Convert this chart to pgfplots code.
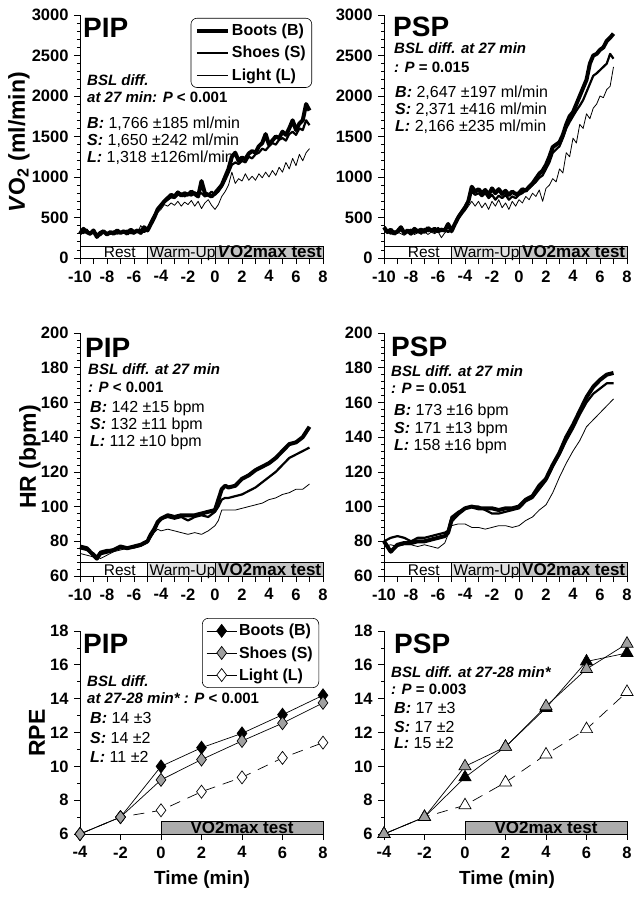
\documentclass[border=0pt]{standalone}
\usepackage{fontspec}
\setmainfont{Liberation Sans}
\usepackage{pgfplots}
\usepackage{pgfplotstable}
\pgfplotsset{compat=1.18}

\definecolor{bandW}{HTML}{E2E2E2}
\definecolor{bandT}{HTML}{C4C4C4}
\definecolor{bandR}{HTML}{ACACAC}
\definecolor{shoeg}{HTML}{A0A0A0}

\pgfplotstableread{
t B S L
-10 300 330 320
-9.75 360 310 300
-9.5 320 350 330
-9.25 300 290 310
-9 340 320 300
-8.75 260 300 280
-8.5 310 280 310
-8.25 330 320 300
-8 290 310 320
-7.75 320 300 290
-7.5 300 330 320
-7.25 340 300 310
-7 310 320 300
-6.75 330 310 330
-6.5 300 340 310
-6.25 350 310 300
-6 320 300 330
-5.75 340 330 310
-5.5 310 350 400
-5.25 380 320 340
-5 340 360 350
-4.75 420 450 420
-4.5 500 530 500
-4.25 600 580 560
-4 650 640 600
-3.75 700 690 660
-3.5 740 720 640
-3.25 780 750 680
-3 760 740 650
-2.75 810 780 700
-2.5 770 800 640
-2.25 800 760 690
-2 780 790 660
-1.75 820 770 710
-1.5 790 810 640
-1.25 760 790 700
-1 950 800 610
-0.75 800 760 680
-0.5 780 780 720
-0.25 760 820 650
0 800 780 600
0.25 850 820 660
0.5 900 880 760
0.75 1000 960 820
1 1100 1050 900
1.25 1250 1150 1060
1.5 1300 1180 920
1.75 1200 1160 980
2 1240 1200 950
2.25 1220 1180 1040
2.5 1290 1250 960
2.75 1320 1230 1010
3 1300 1280 960
3.25 1380 1300 1040
3.5 1420 1350 990
3.75 1530 1330 1060
4 1400 1380 1000
4.25 1450 1420 1080
4.5 1500 1400 1020
4.75 1480 1460 1120
5 1560 1480 1060
5.25 1520 1450 1180
5.5 1600 1530 1100
5.75 1700 1560 1230
6 1580 1520 1140
6.25 1660 1600 1280
6.5 1700 1580 1200
6.75 1900 1700 1300
7 1820 1640 1350
}\vopip

\pgfplotstableread{
t B S L
-10 380 360 340
-9.75 320 340 310
-9.5 350 300 330
-9.25 300 330 290
-9 330 310 320
-8.75 380 350 300
-8.5 310 300 280
-8.25 340 330 310
-8 300 350 320
-7.75 360 310 290
-7.5 330 340 310
-7.25 350 300 300
-7 320 360 330
-6.75 370 330 290
-6.5 340 350 320
-6.25 360 320 300
-6 330 370 330
-5.75 350 330 250
-5.5 340 360 310
-5.25 420 320 340
-5 330 350 330
-4.75 420 430 400
-4.5 500 520 480
-4.25 560 580 540
-4 620 640 580
-3.75 700 720 640
-3.5 880 820 700
-3.25 820 780 640
-3 850 800 700
-2.75 800 760 620
-2.5 840 800 680
-2.25 780 740 600
-2 860 780 700
-1.75 800 720 640
-1.5 850 770 720
-1.25 790 740 620
-1 830 780 680
-0.75 780 720 600
-0.5 820 760 700
-0.25 790 740 640
0 800 780 720
0.25 850 800 680
0.5 830 840 760
0.75 880 860 720
1 920 900 800
1.25 980 940 760
1.5 1040 990 840
1.75 1080 1020 700
2 1150 1100 860
2.25 1250 1180 900
2.5 1370 1300 980
2.75 1400 1340 940
3 1430 1380 1100
3.25 1520 1480 1050
3.5 1650 1600 1300
3.75 1750 1680 1250
4 1800 1750 1480
4.25 1900 1820 1420
4.5 2000 1880 1650
4.75 2100 1950 1600
5 2200 2050 1780
5.25 2400 2150 1720
5.5 2500 2250 1850
5.75 2520 2280 1900
6 2570 2320 2000
6.25 2600 2360 1980
6.5 2680 2400 2080
6.75 2720 2520 2120
7 2770 2460 2360
}\vopsp

\pgfplotstableread{
t B S L
-10 77 76 73
-9.5 76 75 72
-9 72 73 71
-8.75 70 71 72
-8.5 73 74 70
-8 74 75 72
-7.5 75 75 74
-7 77 76 75
-6.5 76 76 76
-6 77 77 76
-5.5 78 78 77
-5 80 80 79
-4.75 84 83 82
-4.5 87 86 85
-4.25 91 90 87
-4 93 93 86
-3.5 95 94 87
-3 94 93 86
-2.5 95 94 85
-2 95 92 84
-1.5 95 94 85
-1 96 95 84
-0.5 97 94 86
0 98 97 89
0.25 104 100 92
0.5 110 104 98
0.75 112 105 98
1 111 105 98
1.5 112 106 98
2 116 107 99
2.5 118 109 100
3 121 111 101
3.5 123 114 102
4 125 117 104
4.5 128 120 105
5 132 124 107
5.5 136 128 108
6 137 130 110
6.5 140 132 110
7 146 134 113
}\hrpip

\pgfplotstableread{
t B S L
-10 80 80 77
-9.5 74 82 78
-9 78 83 77
-8.5 79 82 78
-8 79 80 78
-7.5 80 82 77
-7 80 82 78
-6.5 81 83 77
-6 82 84 76
-5.5 83 85 79
-5.25 85 86 84
-5 92 94 89
-4.5 96 97 90
-4 99 99 90
-3.5 100 100 88
-3 99 100 88
-2.5 99 98 87
-2 99 96 88
-1.5 98 96 89
-1 99 97 89
-0.5 99 98 88
0 100 99 89
0.5 104 103 92
1 106 105 94
1.5 112 110 98
2 116 115 101
2.5 124 123 108
3 131 130 117
3.5 140 138 125
4 147 145 132
4.5 155 153 138
5 163 160 146
5.5 169 165 150
6 173 168 154
6.5 176 171 158
7 177 171 162
}\hrpsp

\pgfplotstableread{
t B S L
-4 6 6 6
-2 7 7 7
0 10 9.2 7.4
2 11.1 10.4 8.5
4 11.95 11.5 9.35
6 13.05 12.55 10.5
8 14.2 13.75 11.4
}\rpepip

\pgfplotstableread{
t B S L
-4 6 6 6
-2 7 7 7
0 9.35 10 7.7
2 11.15 11.15 9.05
4 13.45 13.55 10.7
6 16.2 15.75 12.2
8 16.7 17.25 14.4
}\rpepsp

\pgfplotsset{
  base/.style={scale only axis, width=243pt, anchor=south west,
    axis x line=bottom, axis y line=left,
    axis line style={-, line width=0.9pt},
    tick align=outside, major tick length=6pt, minor tick length=3pt,
    every tick/.style={black, line width=0.7pt},
    tick label style={font=\fontsize{16.5}{16.5}\selectfont\bfseries},
    xticklabel style={yshift=-3pt},
    yticklabel style={xshift=-2pt},
    /pgf/number format/assume math mode=true,
    /pgf/number format/1000 sep={},
    clip=false},
  ts/.style={base, height=243pt, xmin=-10, xmax=8,
    xtick={-10,-8,...,8}, extra x ticks={-9,-7,...,7}, extra x tick labels={},
    minor y tick num=4},
  rpe/.style={base, height=203pt, xmin=-4, xmax=8, ymin=6, ymax=18,
    xtick={-4,-2,...,8}, ytick={6,8,...,18}, minor y tick num=1},
  LB/.style={black, line width=4pt, line join=round},
  LS/.style={black, line width=2.2pt, line join=round},
  LL/.style={black, line width=0.8pt, line join=round},
}
\newcommand{\ann}[3]{\node[anchor=base west, inner sep=0pt, font=\fontsize{16}{16}\selectfont] at (#1pt,-#2pt) {#3};}
\newcommand{\bsl}[3]{\node[anchor=base west, inner sep=0pt, font=\fontsize{15}{15}\selectfont\bfseries\itshape] at (#1pt,-#2pt) {#3};}
\newcommand{\ttl}[3]{\node[anchor=base west, inner sep=0pt, font=\fontsize{28}{28}\selectfont\bfseries] at (#1pt,-#2pt) {#3};}
\newcommand{\bi}[1]{\textbf{\textit{#1}}}
\newcommand{\bandfont}{\fontsize{15.5}{15}\selectfont}
\newcommand{\bandbold}{\fontsize{17}{15}\selectfont\bfseries}

\begin{document}
\begin{tikzpicture}
\path[use as bounding box] (0pt,0pt) rectangle (644pt,-898pt);

% ---------- Panel 1: PIP VO2
\begin{axis}[ts, at={(80pt,-258pt)}, ymin=0, ymax=3000, ytick={0,500,...,3000},
  legend style={at={(0.955,0.988)}, anchor=north east, draw=black, line width=0.6pt,
    rounded corners=6pt, font=\fontsize{16}{16}\selectfont\bfseries,
    inner xsep=4pt, inner ysep=4pt, row sep=5pt},
  legend cell align=left,
  legend image code/.code={\draw[#1] (0pt,0pt) -- (31pt,0pt);}]
\draw[line width=0.6pt, fill=white] (axis cs:-10,0) rectangle (axis cs:-5,150);
\draw[line width=0.6pt, fill=bandW] (axis cs:-5,0) rectangle (axis cs:0,150);
\draw[line width=0.6pt, fill=bandT] (axis cs:0,0) rectangle (axis cs:8,150);
\node[anchor=base, inner sep=0, font=\bandfont] at (axis cs:-7.05,8) {Rest};
\node[anchor=base, inner sep=0, font=\bandfont] at (axis cs:-2.4,8) {Warm-Up};
\node[anchor=base, inner sep=0, font=\bandbold] at (axis cs:4.05,8) {\textit{V}O2max test};
\addplot[LB] table[x=t, y=B] {\vopip}; \addlegendentry{Boots (B)}
\addplot[LS] table[x=t, y=S] {\vopip}; \addlegendentry{Shoes (S)}
\addplot[LL] table[x=t, y=L] {\vopip}; \addlegendentry{Light (L)}
\end{axis}

% ---------- Panel 2: PSP VO2
\begin{axis}[ts, at={(384pt,-258pt)}, ymin=0, ymax=3000, ytick={0,500,...,3000}]
\draw[line width=0.6pt, fill=white] (axis cs:-10,0) rectangle (axis cs:-5,150);
\draw[line width=0.6pt, fill=bandW] (axis cs:-5,0) rectangle (axis cs:0,150);
\draw[line width=0.6pt, fill=bandT] (axis cs:0,0) rectangle (axis cs:8,150);
\node[anchor=base, inner sep=0, font=\bandfont] at (axis cs:-7.05,8) {Rest};
\node[anchor=base, inner sep=0, font=\bandfont] at (axis cs:-2.4,8) {Warm-Up};
\node[anchor=base, inner sep=0, font=\bandbold] at (axis cs:4.05,8) {VO2max test};
\addplot[LB] table[x=t, y=B] {\vopsp};
\addplot[LS] table[x=t, y=S] {\vopsp};
\addplot[LL] table[x=t, y=L] {\vopsp};
\end{axis}

% ---------- Panel 3: PIP HR
\begin{axis}[ts, at={(80pt,-576pt)}, ymin=60, ymax=200, ytick={60,80,...,200}]
\draw[line width=0.6pt, fill=white] (axis cs:-10,60) rectangle (axis cs:-5,67.7);
\draw[line width=0.6pt, fill=bandW] (axis cs:-5,60) rectangle (axis cs:0,67.7);
\draw[line width=0.6pt, fill=bandT] (axis cs:0,60) rectangle (axis cs:8,67.7);
\node[anchor=base, inner sep=0, font=\bandfont] at (axis cs:-7.05,60.4) {Rest};
\node[anchor=base, inner sep=0, font=\bandfont] at (axis cs:-2.4,60.4) {Warm-Up};
\node[anchor=base, inner sep=0, font=\bandbold] at (axis cs:4.05,60.4) {VO2max test};
\addplot[LB] table[x=t, y=B] {\hrpip};
\addplot[LS] table[x=t, y=S] {\hrpip};
\addplot[LL] table[x=t, y=L] {\hrpip};
\end{axis}

% ---------- Panel 4: PSP HR
\begin{axis}[ts, at={(384pt,-576pt)}, ymin=60, ymax=200, ytick={60,80,...,200}]
\draw[line width=0.6pt, fill=white] (axis cs:-10,60) rectangle (axis cs:-5,67.7);
\draw[line width=0.6pt, fill=bandW] (axis cs:-5,60) rectangle (axis cs:0,67.7);
\draw[line width=0.6pt, fill=bandT] (axis cs:0,60) rectangle (axis cs:8,67.7);
\node[anchor=base, inner sep=0, font=\bandfont] at (axis cs:-7.05,60.4) {Rest};
\node[anchor=base, inner sep=0, font=\bandfont] at (axis cs:-2.4,60.4) {Warm-Up};
\node[anchor=base, inner sep=0, font=\bandbold] at (axis cs:4.05,60.4) {VO2max test};
\addplot[LB] table[x=t, y=B] {\hrpsp};
\addplot[LS] table[x=t, y=S] {\hrpsp};
\addplot[LL] table[x=t, y=L] {\hrpsp};
\end{axis}

% ---------- Panel 5: PIP RPE
\begin{axis}[rpe, at={(80pt,-834pt)},
  legend style={at={(0.984,1.064)}, anchor=north east, draw=black, line width=0.6pt,
    rounded corners=6pt, font=\fontsize{16}{16}\selectfont\bfseries,
    inner xsep=4pt, inner ysep=4pt, row sep=5pt},
  legend cell align=left,
  legend image code/.code={\draw[#1, mark repeat=2, mark phase=2] plot coordinates {(0pt,0pt) (15pt,0pt) (30pt,0pt)};}]
\draw[line width=0.6pt, fill=bandR] (axis cs:0,6) rectangle (axis cs:8,6.73);
\node[anchor=base, inner sep=0, font=\bandbold] at (axis cs:4,6.04) {VO2max test};
\addlegendimage{black, line width=0.7pt, mark=diamond*, mark size=6.5pt, mark options={fill=black, solid}}
\addlegendentry{Boots (B)}
\addlegendimage{black, line width=0.7pt, mark=diamond*, mark size=6.5pt, mark options={fill=shoeg, solid}}
\addlegendentry{Shoes (S)}
\addlegendimage{black, line width=0.7pt, dash pattern=on 11pt off 8pt, mark=diamond*, mark size=6.5pt, mark options={fill=white, solid}}
\addlegendentry{Light (L)}
\addplot[forget plot, black, line width=0.7pt, dash pattern=on 11pt off 8pt, mark=diamond*, mark size=6.5pt, mark options={fill=white, solid}] table[x=t, y=L] {\rpepip};
\addplot[forget plot, black, line width=0.7pt, mark=diamond*, mark size=6.5pt, mark options={fill=black, solid}] table[x=t, y=B] {\rpepip};
\addplot[forget plot, black, line width=0.7pt, mark=diamond*, mark size=6.5pt, mark options={fill=shoeg, solid}] table[x=t, y=S] {\rpepip};
\end{axis}

% ---------- Panel 6: PSP RPE
\begin{axis}[rpe, at={(384pt,-834pt)}]
\draw[line width=0.6pt, fill=bandR] (axis cs:0,6) rectangle (axis cs:8,6.73);
\node[anchor=base, inner sep=0, font=\bandbold] at (axis cs:4,6.04) {VO2max test};
\addplot[black, line width=0.7pt, dash pattern=on 11pt off 8pt, mark=triangle*, mark size=7pt, mark options={fill=white, solid}] table[x=t, y=L] {\rpepsp};
\addplot[black, line width=0.7pt, mark=triangle*, mark size=7pt, mark options={fill=black, solid}] table[x=t, y=B] {\rpepsp};
\addplot[black, line width=0.7pt, mark=triangle*, mark size=7pt, mark options={fill=shoeg, solid}] table[x=t, y=S] {\rpepsp};
\end{axis}

% ---------- axis labels
\node[rotate=90, inner sep=0, font=\fontsize{23}{23}\selectfont\bfseries] at (19pt,-142pt) {\textit{V}O\textsubscript{2} (ml/min)};
\node[rotate=90, inner sep=0, font=\fontsize{23}{23}\selectfont\bfseries] at (30pt,-457pt) {HR (bpm)};
\node[rotate=90, inner sep=0, font=\fontsize{23}{23}\selectfont\bfseries] at (37pt,-733pt) {RPE};
\node[anchor=base, inner sep=0, font=\fontsize{19}{19}\selectfont\bfseries] at (202pt,-884pt) {Time (min)};
\node[anchor=base, inner sep=0, font=\fontsize{19}{19}\selectfont\bfseries] at (507pt,-884pt) {Time (min)};

% ---------- annotations panel 1
\ttl{83}{37}{PIP}
\bsl{87}{85}{BSL diff.}
\bsl{87}{102}{at 27 min: P \upshape< 0.001}
\ann{87}{128}{\bi{B:} 1,766 ±185 ml/min}
\ann{87}{145}{\bi{S:} 1,650 ±242 ml/min}
\ann{87}{162}{\bi{L:} 1,318 ±126ml/min}
% panel 2
\ttl{393}{36}{PSP}
\bsl{394}{53}{BSL diff. at 27 min}
\bsl{394}{72}{: P \upshape= 0.015}
\ann{395}{97}{\bi{B:} 2,647 ±197 ml/min}
\ann{395}{114}{\bi{S:} 2,371 ±416 ml/min}
\ann{395}{131}{\bi{L:} 2,166 ±235 ml/min}
% panel 3
\ttl{85}{357}{PIP}
\bsl{88}{374}{BSL diff. at 27 min}
\bsl{88}{392}{: P \upshape< 0.001}
\ann{90}{412}{\bi{B:} 142 ±15 bpm}
\ann{90}{429}{\bi{S:} 132 ±11 bpm}
\ann{90}{446}{\bi{L:} 112 ±10 bpm}
% panel 4
\ttl{391}{356}{PSP}
\bsl{391}{376}{BSL diff. at 27 min}
\bsl{391}{393}{: P \upshape= 0.051}
\ann{394}{415}{\bi{B:} 173 ±16 bpm}
\ann{394}{433}{\bi{S:} 171 ±13 bpm}
\ann{394}{450}{\bi{L:} 158 ±16 bpm}
% panel 5
\ttl{83}{653}{PIP}
\bsl{87}{686}{BSL diff.}
\bsl{87}{703}{at 27-28 min* : P \upshape< 0.001}
\ann{90}{723}{\bi{B:} 14 ±3}
\ann{90}{743}{\bi{S:} 14 ±2}
\ann{90}{762}{\bi{L:} 11 ±2}
% panel 6
\ttl{394}{653}{PSP}
\bsl{391}{677}{BSL diff. at 27-28 min*}
\bsl{391}{694}{: P \upshape= 0.003}
\ann{394}{713}{\bi{B:} 17 ±3}
\ann{394}{732}{\bi{S:} 17 ±2}
\ann{394}{748}{\bi{L:} 15 ±2}
\end{tikzpicture}
\end{document}
